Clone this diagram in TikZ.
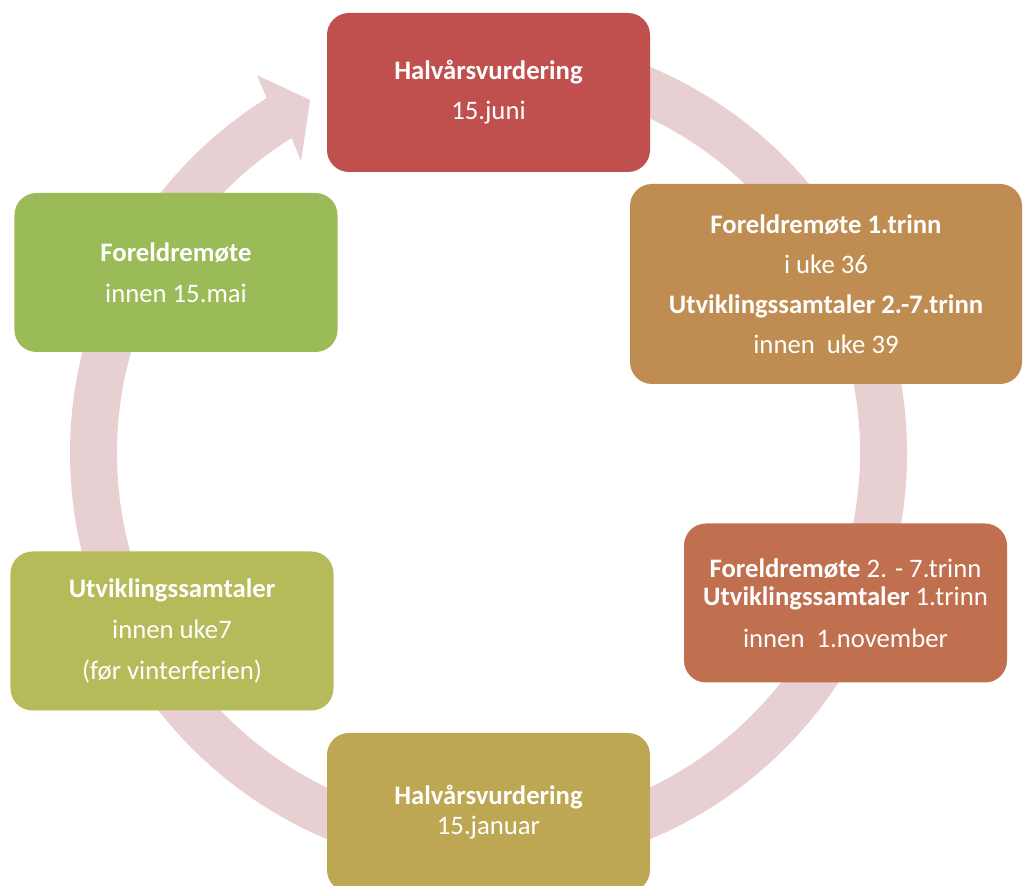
\documentclass[tikz,border=0pt]{standalone}
\usepackage{fontspec}
\setmainfont{Carlito}
\definecolor{ringpink}{RGB}{232,207,209}
\definecolor{cTop}{RGB}{192,80,77}
\definecolor{cRT}{RGB}{191,141,81}
\definecolor{cRB}{RGB}{192,111,79}
\definecolor{cBot}{RGB}{190,167,82}
\definecolor{cLB}{RGB}{181,187,89}
\definecolor{cLT}{RGB}{155,187,89}
\begin{document}
\begin{tikzpicture}[x=1bp,y=1bp,
  stagebox/.style={rounded corners=22bp, minimum width=323bp, minimum height=159bp,
    text=white, align=center, inner sep=0pt,
    font=\fontsize{26.7bp}{29bp}\selectfont}]
\useasboundingbox (0,0) rectangle (1023,886);
% ring with arrow head
\coordinate (rc) at (488.5,433);
\fill[ringpink, shift={(rc)}]
  (95:418.5) arc[start angle=95, end angle=-238, radius=418.5]
  -- (121.5:443) -- (116.8:395.6) -- (122.7:347)
  -- (-238:371.5) arc[start angle=-238, end angle=95, radius=371.5] -- cycle;
% boxes
\node[stagebox, fill=cTop] (top) at (488.5,793.5)
  {\textbf{Halvårsvurdering}\\[11bp] 15.juni};
\node[stagebox, fill=cRT, minimum width=392bp, minimum height=200bp] (rt) at (826,602)
  {\textbf{Foreldremøte 1.trinn}\\[11bp] i uke 36\\[11bp]
   \textbf{Utviklingssamtaler 2.-7.trinn}\\[11bp] innen\ \ uke 39};
\node[stagebox, fill=cRB] (rb) at (845.5,283)
  {\textbf{Foreldremøte} 2. - 7.trinn\\[-1bp]
   \textbf{Utviklingssamtaler} 1.trinn\\[13bp] innen\ \ 1.november};
\node[stagebox, fill=cBot] (bot) at (488.5,73.5)
  {\textbf{Halvårsvurdering}\\[1bp] 15.januar};
\node[stagebox, fill=cLB] (lb) at (172,255)
  {\textbf{Utviklingssamtaler}\\[12bp] innen uke7\\[12bp] (før vinterferien)};
\node[stagebox, fill=cLT] (lt) at (176,613.5)
  {\textbf{Foreldremøte}\\[12bp] innen 15.mai};
\end{tikzpicture}
\end{document}
